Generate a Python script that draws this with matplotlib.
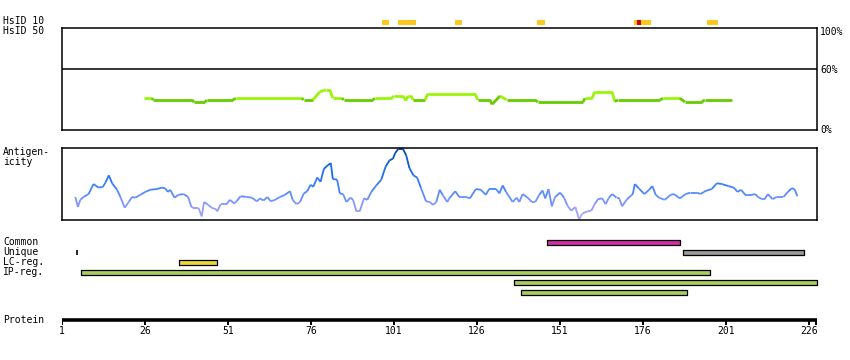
import numpy as np
import matplotlib
matplotlib.use("Agg")
import matplotlib.pyplot as plt
from matplotlib.collections import LineCollection
from matplotlib.colors import LinearSegmentedColormap

W, H = 850, 360
PROT_LEN = 228.5

# HsID 10 hits (start, end residue), red = best hit
hsid10_spans = [(97.4, 99.4), (102.2, 107.7), (119.4, 121.5), (144.1, 146.5),
                (173.3, 178.5), (195.3, 198.6)]
hsid10_red = [(174.2, 175.4)]

# HsID 50 identity line (residue, percent)
ident_x = [25.7, 28.1, 28.5, 40.2, 40.8, 44.1, 44.6, 52.5, 53.4, 73.3, 73.8, 76.6,
           78.7, 80.5, 81.7, 82.6, 85.4, 85.9, 94.7, 95.3, 100.4, 100.9, 103.7,
           104.6, 105.3, 106.2, 106.8, 110.4, 111.3, 125.4, 126.3, 129.9, 130.6,
           133.0, 135.0, 143.5, 144.4, 158.0, 158.6, 160.7, 161.6, 166.7, 167.6,
           168.5, 181.2, 182.1, 187.2, 188.7, 193.8, 194.7, 202.8]
ident_y = [31.1, 31.1, 29.5, 29.5, 27.2, 27.2, 29.5, 29.5, 31.1, 31.1, 29.5, 29.5,
           37.5, 39.3, 39.3, 31.1, 31.1, 29.5, 29.5, 31.1, 31.1, 33.4, 33.4,
           28.9, 33.4, 33.4, 29.5, 29.5, 35.7, 35.7, 29.5, 29.5, 25.2,
           33.4, 29.5, 29.5, 27.5, 27.5, 31.1, 31.1, 37.7, 37.7, 27.9,
           29.5, 29.5, 31.1, 31.1, 27.5, 27.5, 29.5, 29.5]

# antigenicity profile (residue, score 0..1)
anti_x = [5.0, 5.8, 6.5, 7.5, 9.0, 10.5, 12.0, 13.3, 14.1, 15.1, 16.1, 17.6, 18.6,
          19.9, 21.1, 22.1, 23.1, 24.6, 26.1, 27.6, 29.6, 31.1, 32.1, 32.9, 33.6,
          34.9, 36.1, 37.6, 39.0, 40.0, 40.6, 42.1, 43.1, 43.8, 45.1, 46.1, 47.4,
          47.8, 48.8, 50.6, 51.6, 52.9, 53.6, 54.8, 56.6, 58.2, 59.7, 60.7, 61.7,
          62.9, 63.9, 65.2, 66.7, 68.2, 69.7, 70.5, 71.7, 72.7, 73.9, 74.9, 75.9,
          76.7, 77.9, 78.9, 79.9, 81.1, 82.0, 82.6, 83.9, 84.7, 85.7, 86.7, 87.9,
          88.7, 89.7, 90.7, 92.0, 93.0, 94.2, 95.7, 97.2, 98.5, 99.7, 100.7, 101.4,
          102.4, 103.7, 104.7, 105.7, 106.9, 108.0, 109.2, 110.7, 111.8, 112.8,
          113.8, 114.8, 115.8, 117.1, 117.7, 119.5, 120.7, 122.7, 123.9, 125.7,
          127.2, 128.7, 129.7, 131.8, 132.8, 133.8, 134.8, 136.8, 138.0, 138.8,
          139.8, 141.3, 142.6, 143.6, 144.8, 145.8, 146.6, 147.6, 148.6, 149.6,
          151.1, 152.3, 153.3, 154.4, 155.7, 156.8, 157.8, 159.3, 160.5, 161.5,
          162.5, 163.8, 164.8, 165.8, 166.8, 168.1, 168.8, 169.8, 171.1, 172.5,
          173.0, 173.6, 174.8, 176.5, 177.9, 178.9, 179.9, 180.9, 182.6, 184.4,
          185.4, 187.2, 188.9, 190.4, 192.4, 193.4, 194.4, 195.3, 196.8, 198.3,
          199.8, 201.9, 203.4, 204.6, 205.6, 206.9, 208.9, 209.9, 210.7, 211.9,
          212.7, 213.7, 215.1, 216.4, 218.4, 219.7, 220.9, 221.7, 222.6]
anti_y = [0.32, 0.18, 0.28, 0.32, 0.36, 0.50, 0.45, 0.46, 0.52, 0.62, 0.51, 0.42, 0.32,
          0.17, 0.25, 0.32, 0.31, 0.35, 0.39, 0.42, 0.43, 0.45, 0.44, 0.39, 0.42,
          0.31, 0.35, 0.36, 0.32, 0.18, 0.17, 0.17, 0.05, 0.25, 0.21, 0.17, 0.15,
          0.12, 0.22, 0.22, 0.28, 0.23, 0.26, 0.33, 0.32, 0.31, 0.26, 0.30, 0.27,
          0.32, 0.26, 0.28, 0.32, 0.35, 0.40, 0.28, 0.22, 0.25, 0.37, 0.40, 0.49,
          0.46, 0.59, 0.53, 0.71, 0.76, 0.79, 0.57, 0.56, 0.37, 0.36, 0.25, 0.31,
          0.28, 0.12, 0.12, 0.30, 0.28, 0.39, 0.48, 0.56, 0.74, 0.83, 0.85, 0.93,
          0.99, 0.99, 0.90, 0.72, 0.62, 0.59, 0.44, 0.26, 0.25, 0.21,
          0.25, 0.42, 0.34, 0.25, 0.30, 0.40, 0.32, 0.32, 0.30, 0.43,
          0.42, 0.35, 0.43, 0.43, 0.37, 0.48, 0.39, 0.25, 0.31, 0.25,
          0.36, 0.31, 0.25, 0.25, 0.35, 0.41, 0.30, 0.43, 0.19, 0.32,
          0.38, 0.31, 0.20, 0.13, 0.18, 0.01, 0.09, 0.12, 0.13, 0.22,
          0.29, 0.30, 0.22, 0.31, 0.36, 0.31, 0.31, 0.19, 0.28, 0.34,
          0.36, 0.50, 0.44, 0.36, 0.42, 0.47, 0.35, 0.31, 0.28, 0.35,
          0.36, 0.30, 0.36, 0.38, 0.38, 0.36, 0.39, 0.41, 0.43, 0.51,
          0.50, 0.47, 0.45, 0.39, 0.42, 0.35, 0.35, 0.36, 0.32, 0.29,
          0.29, 0.36, 0.29, 0.32, 0.32, 0.39, 0.44, 0.43, 0.33]

# feature tracks
feat_rows = ["Common", "Unique", "LC-reg.", "IP-reg."]
common_spans = [(147.1, 187.2)]
unique_spans = [(188.1, 224.6)]
unique_marks = [5.6]
lc_spans = [(36.3, 47.7)]
ip_spans = [(6.7, 196.2), (137.2, 228.5), (139.3, 189.3)]

ticks = [1, 26, 51, 76, 101, 126, 151, 176, 201, 226]

FONT = "DejaVu Sans Mono"
plt.rcParams["font.family"] = FONT

fig = plt.figure(figsize=(W / 100, H / 100), dpi=100)


def px_axes(x0, y0, x1, y1):
    return fig.add_axes([x0 / W, 1 - y1 / H, (x1 - x0) / W, (y1 - y0) / H])


def label(x, y, s, **kw):
    fig.text(x / W, 1 - y / H, s, fontsize=7, va="center", **kw)


# track axes in pixel rows
tr = px_axes(62, 0, 817, H)
tr.set_xlim(1, PROT_LEN)
tr.set_ylim(H, 0)
tr.axis("off")


def bars(spans, y, color, h=5, ec="black"):
    tr.broken_barh([(a, b - a) for a, b in spans], (y - h / 2, h),
                   facecolors=color, edgecolors=ec, linewidth=0.9, clip_on=False)


bars(hsid10_spans, 22, "#fcc81f", ec="none")
bars(hsid10_red, 22, "#dd0000", ec="none")

bars(common_spans, 242, "#d22ea6")
bars(unique_spans, 252, "#999999")
for m in unique_marks:
    tr.plot([m, m], [250, 255], color="black", lw=1.2, solid_capstyle="butt")
bars(lc_spans, 262, "#ecd835")
for i, sp in enumerate(ip_spans):
    bars([sp], 272 + 10 * i, "#a8cc5e")

# protein ruler
tr.plot([1, PROT_LEN], [320, 320], color="black", lw=2.6, solid_capstyle="butt")
for t in ticks + [PROT_LEN - 0.3]:
    tr.plot([t, t], [320, 325], color="black", lw=1.4, solid_capstyle="butt")
for t in ticks:
    tr.text(t, 331, str(t), fontsize=7, ha="center", va="center")

# identity panel
ax1 = px_axes(62, 28, 817, 130)
ax1.set_xlim(1, PROT_LEN)
ax1.set_ylim(0, 100)
ax1.axhline(60, color="black", lw=1.1)
pts = np.column_stack([ident_x, ident_y])
segs = np.stack([pts[:-1], pts[1:]], axis=1)
mids = (np.array(ident_y[:-1]) + np.array(ident_y[1:])) / 2
cols = ["#99f50a" if m >= 30.5 else "#66cc00" for m in mids]
ax1.add_collection(LineCollection(segs, colors=cols, linewidths=2.0, capstyle="butt"))
ax1.set_xticks([])
ax1.set_yticks([])
for s in ax1.spines.values():
    s.set_linewidth(1.1)

# antigenicity panel
ax2 = px_axes(62, 148, 817, 220)
ax2.set_xlim(1, PROT_LEN)
ax2.set_ylim(0, 1)
cmap = LinearSegmentedColormap.from_list(
    "anti", [(0, "#b8a8ff"), (0.2, "#8c99ff"), (0.4, "#4d88ff"),
             (0.7, "#1668f0"), (1.0, "#0046a8")])
pts = np.column_stack([anti_x, anti_y])
segs = np.stack([pts[:-1], pts[1:]], axis=1)
mids = (np.array(anti_y[:-1]) + np.array(anti_y[1:])) / 2
ax2.add_collection(LineCollection(segs, colors=cmap(mids), linewidths=1.3))
ax2.set_xticks([])
ax2.set_yticks([])
for s in ax2.spines.values():
    s.set_linewidth(1.1)

# labels
label(3, 21, "HsID 10")
label(3, 31, "HsID 50")
label(820, 32, "100%")
label(820, 70, "60%")
label(820, 130, "0%")
label(3, 157, "Antigen-\nicity", linespacing=0.95)
for i, r in enumerate(feat_rows):
    label(3, 242 + 10 * i, r)
label(3, 320, "Protein")

fig.savefig("out.png", dpi=100)
